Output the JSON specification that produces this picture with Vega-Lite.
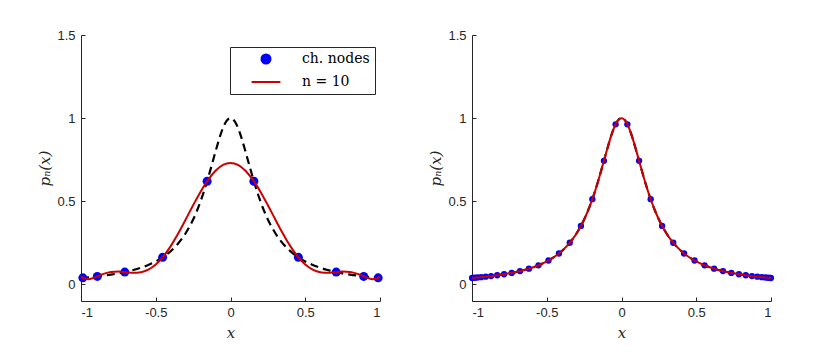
{
  "$schema": "https://vega.github.io/schema/vega-lite/v6.json",
  "background": "white",
  "padding": {"left": 37, "top": 29, "right": 5, "bottom": 5},
  "spacing": 92,
  "bounds": "flush",
  "config": {
    "view": {"stroke": null},
    "axis": {
      "grid": false,
      "domainColor": "#262626",
      "tickColor": "#262626",
      "labelColor": "#262626",
      "labelFont": "Liberation Sans",
      "labelFontSize": 13,
      "titleFont": "DejaVu Serif",
      "titleFontStyle": "italic",
      "titleFontWeight": "normal",
      "titleFontSize": 15,
      "titleColor": "#262626",
      "tickSize": -4,
      "labelExpr": "'' + datum.value"
    },
    "axisX": {"labelPadding": 9, "titlePadding": 6},
    "axisY": {"labelPadding": 10, "titlePadding": 4}
  },
  "datasets": {
    "f": [
      {"x": -1, "y": 0.03846}, {"x": -0.95, "y": 0.04243}, {"x": -0.9, "y": 0.04706}, {"x": -0.85, "y": 0.05246},
      {"x": -0.8, "y": 0.05882}, {"x": -0.75, "y": 0.06639}, {"x": -0.7, "y": 0.07547}, {"x": -0.65, "y": 0.08649},
      {"x": -0.6, "y": 0.1}, {"x": -0.55, "y": 0.11679}, {"x": -0.5, "y": 0.13793}, {"x": -0.45, "y": 0.16495},
      {"x": -0.4, "y": 0.2}, {"x": -0.35, "y": 0.24615}, {"x": -0.325, "y": 0.27468}, {"x": -0.3, "y": 0.30769},
      {"x": -0.275, "y": 0.34595}, {"x": -0.25, "y": 0.39024}, {"x": -0.225, "y": 0.44138}, {"x": -0.2, "y": 0.5},
      {"x": -0.175, "y": 0.56637}, {"x": -0.15, "y": 0.64}, {"x": -0.125, "y": 0.7191}, {"x": -0.1, "y": 0.8},
      {"x": -0.075, "y": 0.87671}, {"x": -0.0625, "y": 0.91103}, {"x": -0.05, "y": 0.94118}, {"x": -0.0375, "y": 0.96604},
      {"x": -0.025, "y": 0.98462}, {"x": -0.0125, "y": 0.99611}, {"x": 0, "y": 1},
      {"x": 0.0125, "y": 0.99611}, {"x": 0.025, "y": 0.98462}, {"x": 0.0375, "y": 0.96604}, {"x": 0.05, "y": 0.94118},
      {"x": 0.0625, "y": 0.91103}, {"x": 0.075, "y": 0.87671}, {"x": 0.1, "y": 0.8}, {"x": 0.125, "y": 0.7191},
      {"x": 0.15, "y": 0.64}, {"x": 0.175, "y": 0.56637}, {"x": 0.2, "y": 0.5}, {"x": 0.225, "y": 0.44138},
      {"x": 0.25, "y": 0.39024}, {"x": 0.275, "y": 0.34595}, {"x": 0.3, "y": 0.30769}, {"x": 0.325, "y": 0.27468},
      {"x": 0.35, "y": 0.24615}, {"x": 0.4, "y": 0.2}, {"x": 0.45, "y": 0.16495}, {"x": 0.5, "y": 0.13793},
      {"x": 0.55, "y": 0.11679}, {"x": 0.6, "y": 0.1}, {"x": 0.65, "y": 0.08649}, {"x": 0.7, "y": 0.07547},
      {"x": 0.75, "y": 0.06639}, {"x": 0.8, "y": 0.05882}, {"x": 0.85, "y": 0.05246}, {"x": 0.9, "y": 0.04706},
      {"x": 0.95, "y": 0.04243}, {"x": 1, "y": 0.03846}
    ],
    "p10": [
      {"x": -1, "y": 0.0488}, {"x": -0.975, "y": 0.0336}, {"x": -0.95, "y": 0.031}, {"x": -0.925, "y": 0.036},
      {"x": -0.9, "y": 0.0445}, {"x": -0.85, "y": 0.0629}, {"x": -0.8, "y": 0.0745}, {"x": -0.75, "y": 0.0769},
      {"x": -0.7, "y": 0.0734}, {"x": -0.65, "y": 0.0701}, {"x": -0.6, "y": 0.0734}, {"x": -0.55, "y": 0.0886},
      {"x": -0.5, "y": 0.1194}, {"x": -0.45, "y": 0.1669}, {"x": -0.4, "y": 0.2303}, {"x": -0.35, "y": 0.3063},
      {"x": -0.3, "y": 0.3901}, {"x": -0.25, "y": 0.4761}, {"x": -0.2, "y": 0.5577}, {"x": -0.15, "y": 0.6288},
      {"x": -0.1, "y": 0.6839}, {"x": -0.05, "y": 0.7189}, {"x": 0, "y": 0.7308},
      {"x": 0.05, "y": 0.7189}, {"x": 0.1, "y": 0.6839}, {"x": 0.15, "y": 0.6288}, {"x": 0.2, "y": 0.5577},
      {"x": 0.25, "y": 0.4761}, {"x": 0.3, "y": 0.3901}, {"x": 0.35, "y": 0.3063}, {"x": 0.4, "y": 0.2303},
      {"x": 0.45, "y": 0.1669}, {"x": 0.5, "y": 0.1194}, {"x": 0.55, "y": 0.0886}, {"x": 0.6, "y": 0.0734},
      {"x": 0.65, "y": 0.0701}, {"x": 0.7, "y": 0.0734}, {"x": 0.75, "y": 0.0769}, {"x": 0.8, "y": 0.0745},
      {"x": 0.85, "y": 0.0629}, {"x": 0.9, "y": 0.0445}, {"x": 0.925, "y": 0.036}, {"x": 0.95, "y": 0.031},
      {"x": 0.975, "y": 0.0336}, {"x": 1, "y": 0.0488}
    ],
    "nodes10": [
      {"x": -0.9877, "y": 0.03939}, {"x": -0.891, "y": 0.04797}, {"x": -0.7071, "y": 0.07407}, {"x": -0.454, "y": 0.16253},
      {"x": -0.1564, "y": 0.62042}, {"x": 0.1564, "y": 0.62042}, {"x": 0.454, "y": 0.16253}, {"x": 0.7071, "y": 0.07407},
      {"x": 0.891, "y": 0.04797}, {"x": 0.9877, "y": 0.03939}
    ],
    "nodes40": [
      {"x": -0.99923, "y": 0.03852}, {"x": -0.99307, "y": 0.03898}, {"x": -0.98079, "y": 0.03992}, {"x": -0.96246, "y": 0.04139},
      {"x": -0.93819, "y": 0.04347}, {"x": -0.90814, "y": 0.04626}, {"x": -0.8725, "y": 0.04992}, {"x": -0.83147, "y": 0.05469},
      {"x": -0.78531, "y": 0.06091}, {"x": -0.73432, "y": 0.06906}, {"x": -0.6788, "y": 0.07988}, {"x": -0.61909, "y": 0.0945},
      {"x": -0.55557, "y": 0.11472}, {"x": -0.48862, "y": 0.1435}, {"x": -0.41866, "y": 0.18581}, {"x": -0.34612, "y": 0.25031},
      {"x": -0.27144, "y": 0.35186}, {"x": -0.19509, "y": 0.51242}, {"x": -0.11754, "y": 0.74328}, {"x": -0.03926, "y": 0.96289},
      {"x": 0.03926, "y": 0.96289}, {"x": 0.11754, "y": 0.74328}, {"x": 0.19509, "y": 0.51242}, {"x": 0.27144, "y": 0.35186},
      {"x": 0.34612, "y": 0.25031}, {"x": 0.41866, "y": 0.18581}, {"x": 0.48862, "y": 0.1435}, {"x": 0.55557, "y": 0.11472},
      {"x": 0.61909, "y": 0.0945}, {"x": 0.6788, "y": 0.07988}, {"x": 0.73432, "y": 0.06906}, {"x": 0.78531, "y": 0.06091},
      {"x": 0.83147, "y": 0.05469}, {"x": 0.8725, "y": 0.04992}, {"x": 0.90814, "y": 0.04626}, {"x": 0.93819, "y": 0.04347},
      {"x": 0.96246, "y": 0.04139}, {"x": 0.98079, "y": 0.03992}, {"x": 0.99307, "y": 0.03898}, {"x": 0.99923, "y": 0.03852}
    ]
  },
  "hconcat": [
    {
      "width": 299,
      "height": 266,
      "encoding": {
        "x": {"field": "x", "type": "quantitative", "scale": {"domain": [-1, 1], "nice": false, "zero": false},
              "axis": {"values": [-1, -0.5, 0, 0.5, 1], "title": "x"}},
        "y": {"field": "y", "type": "quantitative", "scale": {"domain": [-0.1, 1.5], "nice": false, "zero": false},
              "axis": {"values": [0, 0.5, 1, 1.5], "title": "pₙ(x)"}}
      },
      "layer": [
        {
          "data": {"name": "f"},
          "mark": {"type": "line", "color": "black", "strokeWidth": 2.2, "strokeDash": [8, 5], "interpolate": "monotone"}
        },
        {
          "data": {"name": "nodes10"},
          "mark": {"type": "point", "filled": true, "opacity": 1, "shape": "circle", "size": 81},
          "encoding": {
            "color": {"datum": "ch. nodes", "type": "nominal",
              "scale": {"domain": ["ch. nodes", "n = 10"], "range": ["#0000ff", "#cc0000"]},
              "legend": {
                "title": null, "orient": "none", "legendX": 149, "legendY": 12,
                "strokeColor": "#262626", "fillColor": "white", "padding": 5,
                "labelFont": "DejaVu Serif", "labelFontSize": 14, "labelColor": "black",
                "symbolSize": 81, "labelOffset": 53, "rowPadding": 7,
                "encoding": {
                  "symbols": {
                    "x": {"value": 31},
                    "shape": {"value": {"expr": "datum.value === 'ch. nodes' ? 'circle' : 'M-3.6,0H3.6'"}},
                    "size": {"value": {"expr": "datum.value === 'ch. nodes' ? 81 : 64"}},
                    "fill": {"value": {"expr": "datum.value === 'ch. nodes' ? '#0000ff' : 'transparent'"}},
                    "stroke": {"value": {"expr": "datum.value === 'ch. nodes' ? 'transparent' : '#cc0000'"}},
                    "strokeWidth": {"value": 2},
                    "opacity": {"value": 1}
                  }
                }
              }}
          }
        },
        {
          "data": {"name": "p10"},
          "mark": {"type": "line", "strokeWidth": 2, "interpolate": "monotone"},
          "encoding": {"color": {"datum": "n = 10", "type": "nominal"}}
        }
      ]
    },
    {
      "width": 299,
      "height": 266,
      "encoding": {
        "x": {"field": "x", "type": "quantitative", "scale": {"domain": [-1, 1], "nice": false, "zero": false},
              "axis": {"values": [-1, -0.5, 0, 0.5, 1], "title": "x"}},
        "y": {"field": "y", "type": "quantitative", "scale": {"domain": [-0.1, 1.5], "nice": false, "zero": false},
              "axis": {"values": [0, 0.5, 1, 1.5], "title": "pₙ(x)"}}
      },
      "layer": [
        {
          "data": {"name": "f"},
          "mark": {"type": "line", "color": "black", "strokeWidth": 2.2, "strokeDash": [8, 5], "interpolate": "monotone"}
        },
        {
          "data": {"name": "nodes40"},
          "mark": {"type": "point", "filled": true, "opacity": 1, "shape": "circle", "size": 40, "color": "#0000ff"}
        },
        {
          "data": {"name": "f"},
          "mark": {"type": "line", "strokeWidth": 2, "color": "#cc0000", "interpolate": "monotone"}
        }
      ]
    }
  ]
}
